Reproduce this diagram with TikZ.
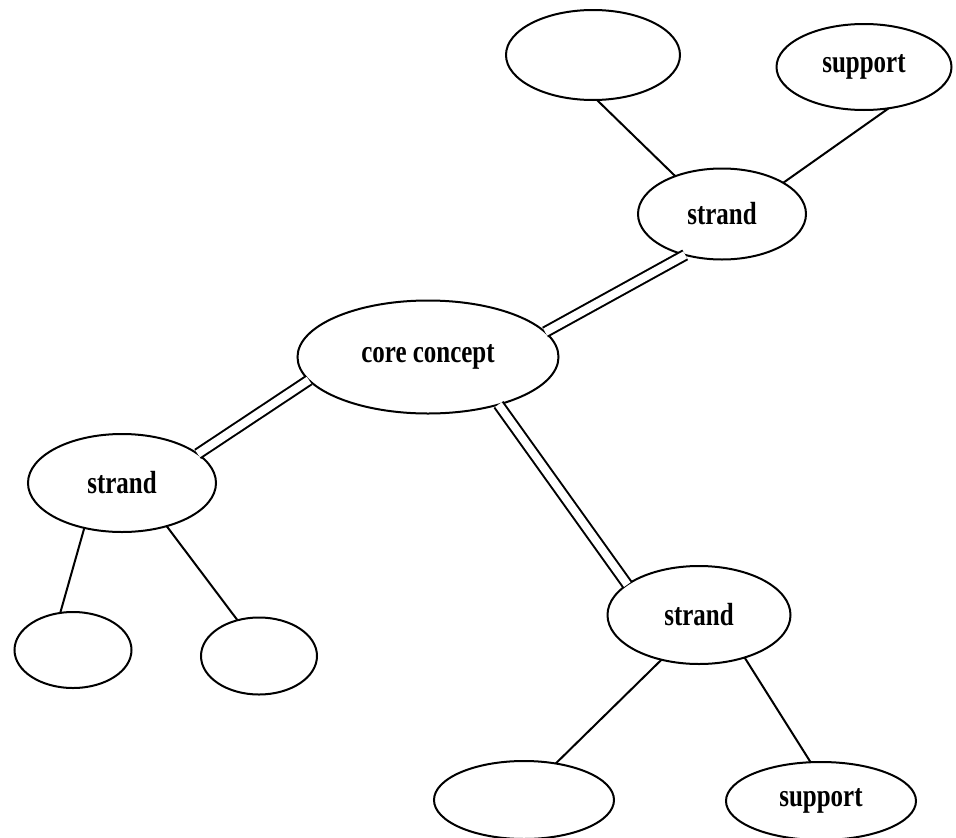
\documentclass[tikz,border=0pt]{standalone}
\usepackage{fontspec}
\newfontfamily\labelfont{Liberation Serif Bold}[FakeStretch=0.78]
\usetikzlibrary{shapes.geometric}
\begin{document}
\begin{tikzpicture}[x=1pt, y=-1pt, line width=2pt,
    bubble/.style={ellipse, draw, inner sep=0pt, outer sep=0pt,
        font=\labelfont\fontsize{32}{36}\selectfont},
    link/.style={double, double distance=8pt}]
    \useasboundingbox (0,0) rectangle (956,838);
    % core and strands
    \node [bubble, minimum width=261, minimum height=113] (core) at (428,357) {core concept};
    \node [bubble, minimum width=168, minimum height=91] (st) at (722,214) {strand};
    \node [bubble, minimum width=188, minimum height=98] (sl) at (122,483) {strand};
    \node [bubble, minimum width=183, minimum height=98] (sb) at (699,615) {strand};
    % leaves
    \node [bubble, minimum width=174, minimum height=90] (tl) at (593,55) {};
    \node [bubble, minimum width=175, minimum height=86] (su) at (864,67) {support};
    \node [bubble, minimum width=117, minimum height=76] (la) at (73,650) {};
    \node [bubble, minimum width=116, minimum height=77] (lb) at (259,656) {};
    \node [bubble, minimum width=180, minimum height=78] (be) at (524,800) {};
    \node [bubble, minimum width=190, minimum height=78] (sp) at (821,801) {support};
    % double links
    \draw [link] (core.12) -- (st.-132);
    \draw [link] (core.-169) -- (sl.21);
    \draw [link] (core.-34) -- (sb.157);
    % single links
    \draw (tl.-85) -- (st.141);
    \draw (su.-59) -- (st.27);
    \draw (sl.-130) -- (la.109);
    \draw (sl.-44) -- (lb.121);
    \draw (sb.-130) -- (be.49);
    \draw (sb.-43) -- (sp.105);
\end{tikzpicture}
\end{document}
